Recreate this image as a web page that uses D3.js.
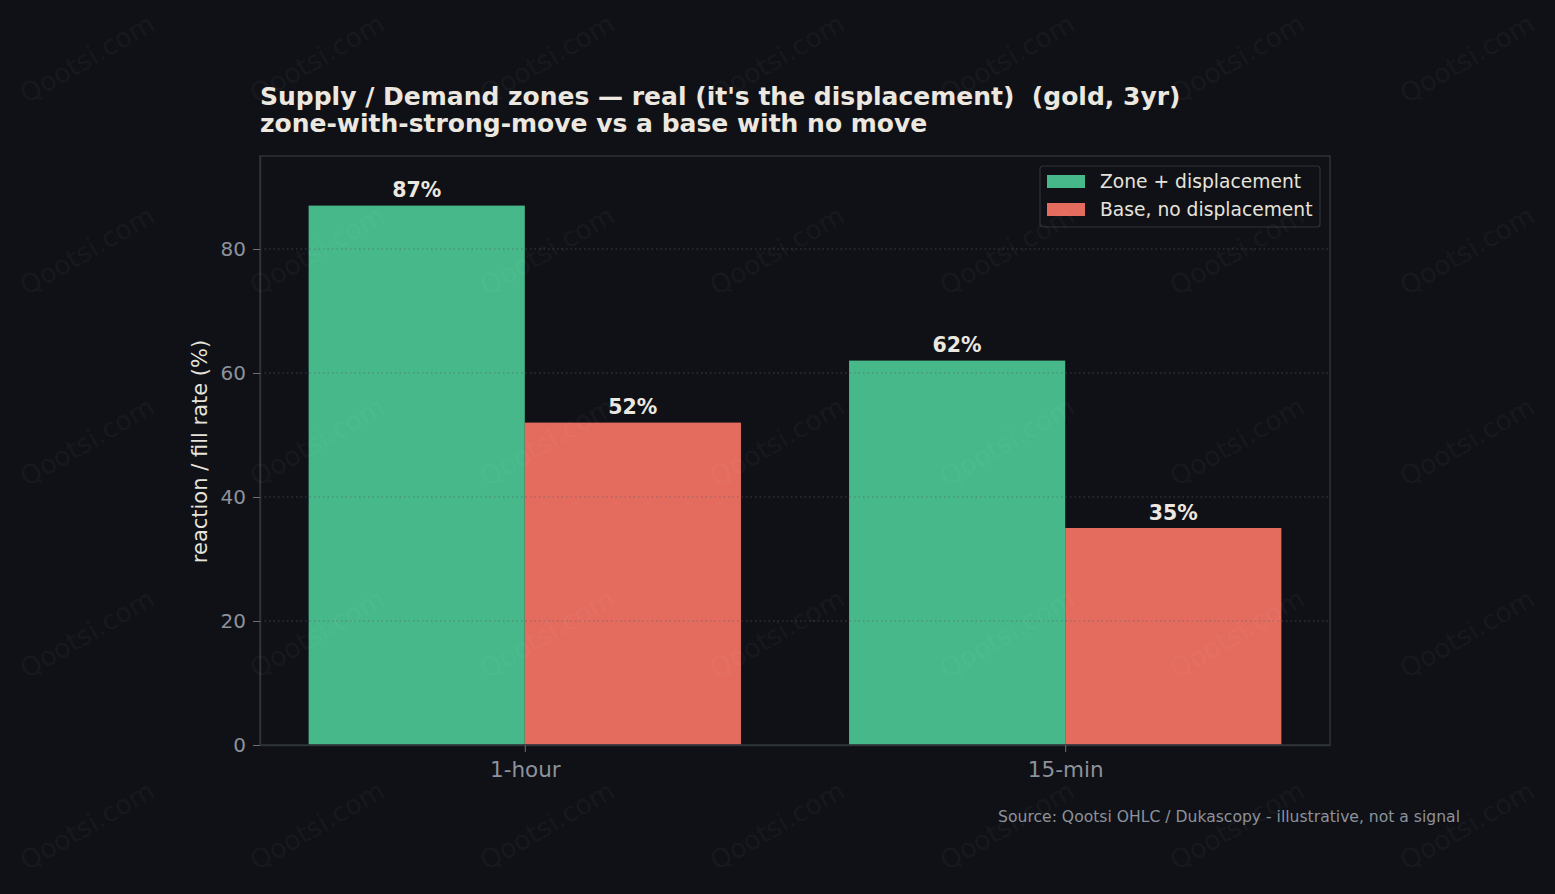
<!DOCTYPE html>
<html>
<head>
<meta charset="utf-8">
<script src="https://cdn.jsdelivr.net/npm/d3@7"></script>
<style>
  body { margin: 0; background: #0f1116; }
  svg { display: block; font-family: "DejaVu Sans", sans-serif; }
</style>
</head>
<body>
<div id="chart"></div>
<script>
// data
const categories = ["1-hour", "15-min"];
const seriesNames = ["Zone + displacement", "Base, no displacement"];
const zoneValues = [87, 62];
const baseValues = [52, 35];
const yTicks = [0, 20, 40, 60, 80];
const colors = ["#46b88a", "#e46c5f"];

const W = 1555, H = 894;
const margin = { left: 260, right: 225, top: 156, bottom: 149 };
const pw = W - margin.left - margin.right;
const ph = H - margin.top - margin.bottom;

const svg = d3.select("#chart").append("svg").attr("width", W).attr("height", H);
svg.append("rect").attr("width", W).attr("height", H).attr("fill", "#0f1116");

// x is continuous like matplotlib: categories at 0,1, bars 0.4 wide
const x = d3.scaleLinear().domain([-0.49, 1.49]).range([margin.left, margin.left + pw]);
const y = d3.scaleLinear().domain([0, 95]).range([margin.top + ph, margin.top]);
const bw = 0.4;

const g = svg.append("g");

const series = [zoneValues, baseValues];
series.forEach((vals, si) => {
    const off = si === 0 ? -bw : 0;
    g.selectAll(".bar" + si).data(vals).enter().append("rect")
        .attr("x", (d, i) => x(i + off))
        .attr("width", x(bw) - x(0))
        .attr("y", d => y(d))
        .attr("height", d => y(0) - y(d))
        .attr("fill", colors[si]);
    g.selectAll(".lbl" + si).data(vals).enter().append("text")
        .attr("x", (d, i) => x(i + off + bw / 2))
        .attr("y", d => y(d) - 8.5)
        .attr("text-anchor", "middle")
        .attr("font-size", 20.5).attr("font-weight", "bold")
        .attr("fill", "#ece8e0")
        .text(d => d + "%");
});

// grid on top of bars, dotted
g.selectAll(".grid").data(yTicks.slice(1)).enter().append("line")
    .attr("x1", margin.left).attr("x2", margin.left + pw)
    .attr("y1", d => y(d)).attr("y2", d => y(d))
    .attr("stroke", "#5a6068").attr("stroke-opacity", 0.6)
    .attr("stroke-width", 1.2).attr("stroke-dasharray", "1.5,3");

// frame
svg.append("rect").attr("x", margin.left).attr("y", margin.top)
    .attr("width", pw).attr("height", ph)
    .attr("fill", "none").attr("stroke", "#2f333a").attr("stroke-width", 1.5);

// y axis
const yAxis = svg.append("g").attr("transform", `translate(${margin.left},0)`)
    .call(d3.axisLeft(y).tickValues(yTicks).tickSize(7).tickPadding(7).tickSizeOuter(0));
yAxis.select(".domain").attr("stroke", "#2f333a").attr("stroke-width", 1.5);
yAxis.selectAll(".tick line").attr("stroke", "#6b7079");
yAxis.selectAll("text").attr("fill", "#8d929b").attr("font-size", 20)
    .attr("font-family", "DejaVu Sans");

// x axis
const xAxis = svg.append("g").attr("transform", `translate(0,${margin.top + ph})`)
    .call(d3.axisBottom(x).tickValues([0, 1]).tickFormat(i => categories[i]).tickSize(7).tickPadding(10).tickSizeOuter(0));
xAxis.select(".domain").attr("stroke", "#2f333a").attr("stroke-width", 1.5);
xAxis.selectAll(".tick line").attr("stroke", "#6b7079");
xAxis.selectAll("text").attr("fill", "#8d929b").attr("font-size", 21.5)
    .attr("font-family", "DejaVu Sans");

// y label
svg.append("text")
    .attr("transform", `translate(207,${margin.top + ph / 2 + 1}) rotate(-90)`)
    .attr("text-anchor", "middle")
    .attr("font-size", 21).attr("fill", "#e6e3dc")
    .text("reaction / fill rate (%)");

// title
svg.append("text").attr("x", 260).attr("y", 104.5)
    .attr("font-size", 25).attr("font-weight", "bold").attr("fill", "#ece8e0")
    .text("Supply / Demand zones \u2014 real (it's the displacement)\u00a0\u00a0(gold, 3yr)");
svg.append("text").attr("x", 260).attr("y", 131.5)
    .attr("font-size", 25).attr("font-weight", "bold").attr("fill", "#ece8e0")
    .text("zone-with-strong-move vs a base with no move");

// legend
const lg = svg.append("g").attr("transform", "translate(1040,166)");
lg.append("rect").attr("width", 280).attr("height", 61).attr("rx", 3)
    .attr("fill", "#0f1116").attr("fill-opacity", 0.8)
    .attr("stroke", "#2f333a").attr("stroke-width", 1.2);
seriesNames.forEach((n, i) => {
    lg.append("rect").attr("x", 7).attr("y", 9 + i * 28).attr("width", 38).attr("height", 13)
        .attr("fill", colors[i]);
    lg.append("text").attr("x", 60).attr("y", 22 + i * 28)
        .attr("font-size", 18.7).attr("fill", "#e6e3dc").text(n);
});

// source
svg.append("text").attr("x", 1460).attr("y", 822).attr("text-anchor", "end")
    .attr("font-size", 15.6).attr("fill", "#8d929b")
    .text("Source: Qootsi OHLC / Dukascopy - illustrative, not a signal");

// watermark grid
const wmX = [88, 318, 548, 778, 1008, 1238, 1468];
const wmY = [60, 252, 443, 635, 827];
const wm = svg.append("g").attr("pointer-events", "none");
wmY.forEach(yy => wmX.forEach(xx => {
    wm.append("text")
        .attr("transform", `translate(${xx},${yy}) rotate(-30)`)
        .attr("text-anchor", "middle").attr("dominant-baseline", "middle")
        .attr("font-size", 26.5).attr("fill", "#ffffff").attr("fill-opacity", 0.055)
        .text("Qootsi.com");
}));
</script>
</body>
</html>
